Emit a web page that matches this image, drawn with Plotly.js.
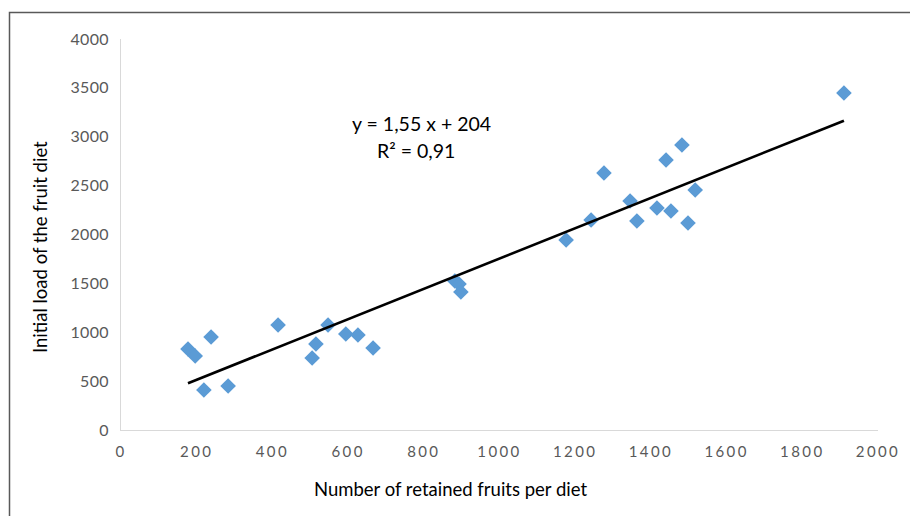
<!DOCTYPE html>
<html>
<head>
<meta charset="utf-8">
<script src="https://cdn.plot.ly/plotly-3.0.1.min.js"></script>
<style>
html,body{margin:0;padding:0;background:#fff;}
#chart{width:910px;height:516px;}
#chart .xtick text{letter-spacing:2.4px;}
#chart .ytick text{letter-spacing:0.3px;}
</style>
</head>
<body>
<div id="chart"></div>
<script>
// Data
const retainedFruits = [177, 196, 238, 219, 283, 415, 505, 515, 547, 594, 626, 666,
  882, 893, 898, 1176, 1242, 1276, 1345, 1363, 1416, 1440, 1453, 1482, 1498, 1517, 1910];
const initialLoad = [829, 757, 951, 409, 450, 1074, 737, 880, 1074, 982, 972, 839,
  1524, 1494, 1412, 1944, 2148, 2629, 2343, 2138, 2271, 2762, 2240, 2916, 2118, 2455, 3448];
const slope = 1.55;
const intercept = 204;
const equationText = "y = 1,55 x + 204";
const r2Text = "R² = 0,91";
const xTitle = "Number of retained fruits per diet";
const yTitle = "Initial load of the fruit diet";

const xMin = Math.min(...retainedFruits);
const xMax = Math.max(...retainedFruits);
const trendX = [xMin, xMax];
const trendY = trendX.map(v => slope * v + intercept);

const font = "Lato, 'Open Sans', sans-serif";
const px = v => (v - 121) / 757;
const py = v => (430 - v) / 391;

const data = [
  {
    x: retainedFruits, y: initialLoad, type: "scatter", mode: "markers",
    marker: {symbol: "diamond", size: 12, color: "#5B9BD5"},
    hoverinfo: "x+y", showlegend: false
  },
  {
    x: trendX, y: trendY, type: "scatter", mode: "lines",
    line: {color: "#000000", width: 2.6},
    hoverinfo: "skip", showlegend: false
  }
];

const layout = {
  width: 910, height: 516,
  margin: {l: 121, r: 32, t: 39, b: 86},
  paper_bgcolor: "#ffffff", plot_bgcolor: "#ffffff",
  showlegend: false,
  font: {family: font, color: "#595959"},
  xaxis: {
    range: [0, 2000], dtick: 200, tick0: 0,
    showgrid: false, zeroline: false,
    showline: true, linecolor: "#d9d9d9", linewidth: 1,
    ticks: "", ticklabelstandoff: 8,
    tickfont: {family: font, size: 15, color: "#595959"}
  },
  yaxis: {
    range: [0, 4000], dtick: 500, tick0: 0,
    showgrid: false, zeroline: false,
    showline: true, linecolor: "#d9d9d9", linewidth: 1,
    ticks: "", ticklabelstandoff: 8,
    tickfont: {family: font, size: 16, color: "#595959"}
  },
  annotations: [
    {xref: "paper", yref: "paper", x: px(421), y: py(124),
     text: equationText, showarrow: false, xanchor: "center", yanchor: "middle",
     font: {family: font, size: 19.5, color: "#000000"}},
    {xref: "paper", yref: "paper", x: px(416), y: py(150),
     text: r2Text, showarrow: false, xanchor: "center", yanchor: "middle",
     font: {family: font, size: 19.5, color: "#000000"}},
    {xref: "paper", yref: "paper", x: px(450), y: py(489),
     text: xTitle, showarrow: false, xanchor: "center", yanchor: "middle",
     font: {family: font, size: 18.5, color: "#000000"}},
    {xref: "paper", yref: "paper", x: px(40), y: py(247), textangle: -90,
     text: yTitle, showarrow: false, xanchor: "center", yanchor: "middle",
     font: {family: font, size: 18.5, color: "#000000"}}
  ],
  shapes: [
    {type: "rect", xref: "paper", yref: "paper",
     x0: px(9.5), x1: px(920),
     y0: py(530), y1: py(12.5),
     line: {color: "#595959", width: 1.5}, fillcolor: "rgba(0,0,0,0)", layer: "below"}
  ]
};

Plotly.newPlot("chart", data, layout, {staticPlot: true, displayModeBar: false});
</script>
</body>
</html>
